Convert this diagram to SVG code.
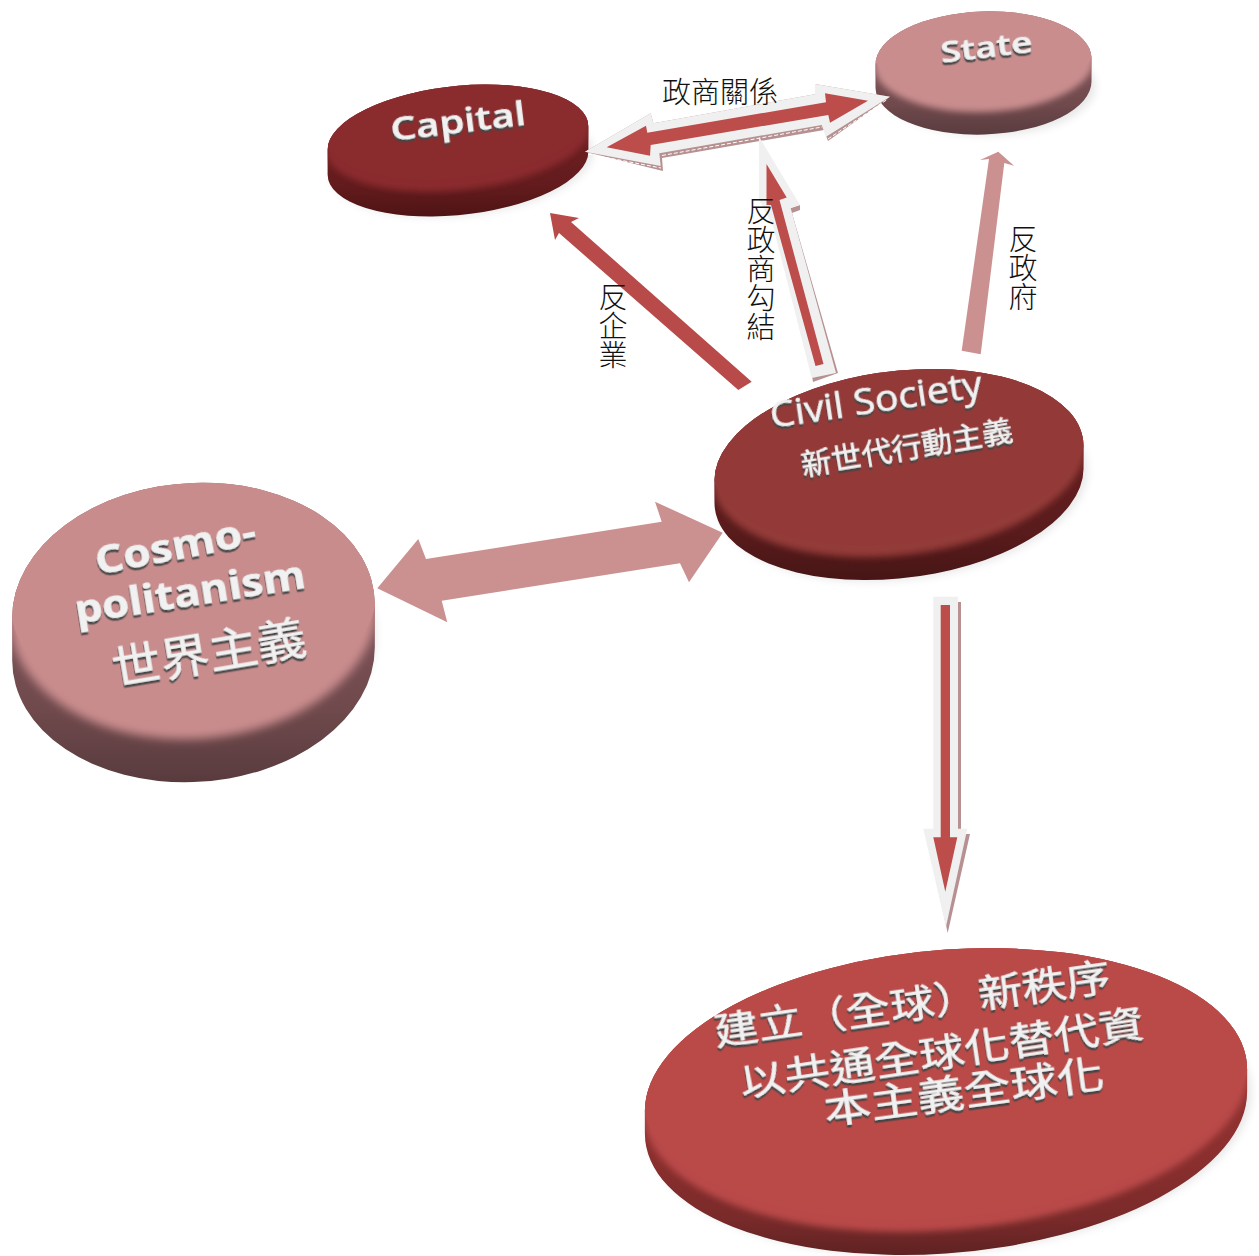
<svg xmlns="http://www.w3.org/2000/svg" width="1259" height="1256" viewBox="0 0 1259 1256">
<style>
.lbl{font-family:"Noto Sans CJK TC","Liberation Sans",sans-serif;font-weight:300;font-size:29px;fill:#111}
.v{writing-mode:vertical-rl;text-orientation:upright}
.t{fill:#f1f1f1;stroke:#f1f1f1;stroke-width:.5;filter:url(#emb)}
.en{font-family:"Open Sans","Liberation Sans",sans-serif}
.zh{font-family:"Noto Sans CJK TC",sans-serif}
.red{fill:#bc4d4b}
.red2{fill:#b84b49}
.pink{fill:#cb9191}
.gray{fill:#f0f0f0}
.sh{fill:#b79191}
.dash{fill:none;stroke:#fff;stroke-width:1;stroke-dasharray:4 2}
.soft{fill:#000;opacity:.1;filter:url(#b6)}
</style>
<defs>
<filter id="emb" x="-10%" y="-30%" width="120%" height="170%"><feDropShadow dx="-0.6" dy="2.6" stdDeviation="0.5" flood-color="#444" flood-opacity="1"/></filter>
<filter id="b3" x="-10%" y="-10%" width="120%" height="120%"><feGaussianBlur stdDeviation="3"/></filter>
<filter id="b5" x="-10%" y="-10%" width="120%" height="120%"><feGaussianBlur stdDeviation="5"/></filter>
<filter id="b6" x="-10%" y="-20%" width="120%" height="140%"><feGaussianBlur stdDeviation="5"/></filter>
<linearGradient id="rimC" x1="0" y1="0" x2="0" y2="1"><stop offset="0" stop-color="#7a2426"/><stop offset=".75" stop-color="#631b1d"/><stop offset="1" stop-color="#4d1314"/></linearGradient>
<linearGradient id="rimS" x1="0" y1="0" x2="0" y2="1"><stop offset="0" stop-color="#90616a"/><stop offset=".75" stop-color="#6f494c"/><stop offset="1" stop-color="#573a3d"/></linearGradient>
<linearGradient id="rimV" x1="0" y1="0" x2="0" y2="1"><stop offset="0" stop-color="#742325"/><stop offset=".75" stop-color="#5a1b1c"/><stop offset="1" stop-color="#451515"/></linearGradient>
<linearGradient id="rimB" x1="0" y1="0" x2="0" y2="1"><stop offset="0" stop-color="#a03b39"/><stop offset=".7" stop-color="#8a2f2e"/><stop offset=".88" stop-color="#7a2a2a"/><stop offset="1" stop-color="#5f2222"/></linearGradient>
<clipPath id="cCap"><path d="M327.6 149.5L327.6 174.5A131 52 -6 0 0 588.4 151.5L588.4 126.5A131 52 -6 0 0 327.6 149.5Z"/></clipPath>
<clipPath id="cSta"><path d="M875.5 65L875.5 88A108 50 -2 0 0 1091.5 81L1091.5 58A108 50 -2 0 0 875.5 65Z"/></clipPath>
<clipPath id="cCiv"><path d="M714.5 480.1L714.5 503.1A185.5 92 -7 0 0 1083.5 468.9L1083.5 445.9A185.5 92 -7 0 0 714.5 480.1Z"/></clipPath>
<clipPath id="cCos"><path d="M12.2 617.4L12.2 660.4A181.5 128 -4 0 0 374.8 647.6L374.8 604.6A181.5 128 -4 0 0 12.2 617.4Z"/></clipPath>
<clipPath id="cNew"><path d="M644.9 1110.7L644.9 1133.7A302 140 -5 0 0 1247.1 1092.3L1247.1 1069.3A302 140 -5 0 0 644.9 1110.7Z"/></clipPath>
</defs>
<rect width="1259" height="1256" fill="#fff"/>

<g id="node-capital">
<ellipse class="soft" cx="462" cy="163" rx="131" ry="52" transform="rotate(-6 462 163)"/>
<g clip-path="url(#cCap)">
<rect x="320" y="80" width="280" height="140" fill="url(#rimC)"/>
<ellipse cx="458" cy="138" rx="133" ry="52" fill="#8a2c2d" filter="url(#b3)" transform="rotate(-6 458 138)"/>
<ellipse cx="458" cy="126" rx="133" ry="52" fill="#8a2c2d" transform="rotate(-6 458 126)"/>
</g>
<text class="t en" font-size="32" font-weight="600" x="392" y="141" textLength="136" lengthAdjust="spacingAndGlyphs" transform="rotate(-7 392 141)">Capital</text>
</g>

<g id="node-state">
<ellipse class="soft" cx="988" cy="86" rx="107" ry="49"/>
<g clip-path="url(#cSta)">
<rect x="870" y="8" width="230" height="130" fill="url(#rimS)"/>
<ellipse cx="984" cy="62" rx="110" ry="50" fill="#c98d8e" filter="url(#b3)" transform="rotate(-2 984 62)"/>
<ellipse cx="984" cy="50" rx="110" ry="50" fill="#c98d8e" transform="rotate(-2 984 50)"/>
</g>
<text class="t en" font-size="28" font-weight="600" x="942" y="63" textLength="92" lengthAdjust="spacingAndGlyphs" transform="rotate(-7 942 63)">State</text>
</g>

<g id="node-civil-society">
<ellipse class="soft" cx="903" cy="487" rx="185" ry="92" transform="rotate(-7 903 487)"/>
<g clip-path="url(#cCiv)">
<rect x="710" y="365" width="380" height="220" fill="url(#rimV)"/>
<ellipse cx="899" cy="463" rx="187.5" ry="92" fill="#933a38" filter="url(#b3)" transform="rotate(-7 899 463)"/>
<ellipse cx="899" cy="451" rx="187.5" ry="92" fill="#933a38" transform="rotate(-7 899 451)"/>
</g>
<text class="t en" font-size="36" x="772" y="428" textLength="214" lengthAdjust="spacingAndGlyphs" transform="rotate(-8.5 772 428)">Civil Society</text>
<text class="t zh" font-size="29" x="803" y="476" textLength="214" lengthAdjust="spacingAndGlyphs" transform="rotate(-9.5 803 476)">新世代行動主義</text>
</g>

<g id="node-cosmopolitanism">
<ellipse class="soft" cx="198" cy="640" rx="178" ry="128" transform="rotate(-4 198 640)"/>
<g clip-path="url(#cCos)">
<rect x="5" y="478" width="380" height="310" fill="url(#rimS)"/>
<ellipse cx="193.5" cy="611" rx="184" ry="128" fill="#c98c8d" filter="url(#b5)" transform="rotate(-4 193.5 611)"/>
<ellipse cx="193.5" cy="593" rx="184" ry="128" fill="#c98c8d" transform="rotate(-4 193.5 593)"/>
</g>
<text class="t en" font-size="40" font-weight="700" x="98" y="575" textLength="163" lengthAdjust="spacingAndGlyphs" transform="rotate(-11 98 575)">Cosmo-</text>
<text class="t en" font-size="40" font-weight="700" x="77" y="624" textLength="233" lengthAdjust="spacingAndGlyphs" transform="rotate(-9 77 624)">politanism</text>
<text class="t zh" font-size="46" x="115" y="685" textLength="196" lengthAdjust="spacingAndGlyphs" transform="rotate(-9.5 115 685)">世界主義</text>
</g>

<g id="node-new-order">
<ellipse class="soft" cx="950" cy="1113" rx="302" ry="140" transform="rotate(-5 950 1113)"/>
<g clip-path="url(#cNew)">
<rect x="640" y="940" width="615" height="316" fill="url(#rimB)"/>
<ellipse cx="946" cy="1090" rx="304" ry="140" fill="#b94a48" filter="url(#b3)" transform="rotate(-5 946 1090)"/>
<ellipse cx="946" cy="1078" rx="304" ry="140" fill="#b94a48" transform="rotate(-5 946 1078)"/>
</g>
<text class="t zh" font-size="38" x="716" y="1045" textLength="400" lengthAdjust="spacingAndGlyphs" transform="rotate(-8 716 1045)">建立（全球）新秩序</text>
<text class="t zh" font-size="38" x="742" y="1096" textLength="408" lengthAdjust="spacingAndGlyphs" transform="rotate(-8.5 742 1096)">以共通全球化替代資</text>
<text class="t zh" font-size="39" x="826" y="1124" textLength="282" lengthAdjust="spacingAndGlyphs" transform="rotate(-7.6 826 1124)">本主義全球化</text>
</g>

<g id="connectors">
<polygon class="red2" points="550,213 579,218 571,222 751.7,381.7 738.3,390 559,233 555,240"/>
<polygon class="pink" points="998.3,151.7 1014,165.7 1004.3,163 980.7,354.3 961.7,350.7 989,159 980,160"/>
<polygon class="pink" points="377.3,588.3 418.3,539 426,559 661.7,521.7 655,501.7 722.7,532.7 689,582.3 680,563.3 441.7,600.7 447.3,622.3"/>

<polygon class="sh" points="585,151.7 650.7,113.3 653.3,123.3 815,94.3 815,84 890,96.7 828,141 824,130 662,158 663,171"/>
<polyline class="dash" points="588,154 661,168"/>
<polyline class="dash" points="662,155.5 822,127"/>
<polyline class="dash" points="828,139 888,99"/>
<polygon class="gray" points="585,151.7 650.7,113.3 653.3,123.3 815,94.3 815,84 890,96.7 826,136.7 821.7,125 659.3,153.3 660.7,166"/>
<polygon class="red" points="606.7,147.3 646,125.7 647.3,132.7 826,102.3 825,93.3 868,100.7 830,122.7 828.3,115 650.7,145 650,155.7"/>

<polygon class="sh" points="800,205 800,210 792,213 838,373 813,382 811,370 790,208"/>
<polygon class="gray" points="759,136.7 800,205 790.7,208.3 836,373 811.7,378 773,226 762,205 759,200"/>
<polygon class="red" points="766.5,164 786.7,197.5 779.5,200 823.5,364 815.5,366 771,205 766.5,205"/>

<polygon class="sh" points="936,602 961,602 961,834 970,834 947.7,933 926,834 936,834"/>
<polygon class="gray" points="933.3,596.7 958,596.7 958,828.7 967.3,828.7 946,926.7 923.3,828.7 933.3,828.7"/>
<polygon class="red" points="940.7,605 950,605 950,837.3 957.3,837.3 945.3,891.7 933.3,837.3 940.7,837.3"/>
</g>

<g id="labels">
<text class="lbl" x="662" y="103">政商關係</text>
<text class="lbl v" x="761" y="196">反政商勾結</text>
<text class="lbl v" x="613" y="282">反企業</text>
<text class="lbl v" x="1023" y="224">反政府</text>
</g>
</svg>
